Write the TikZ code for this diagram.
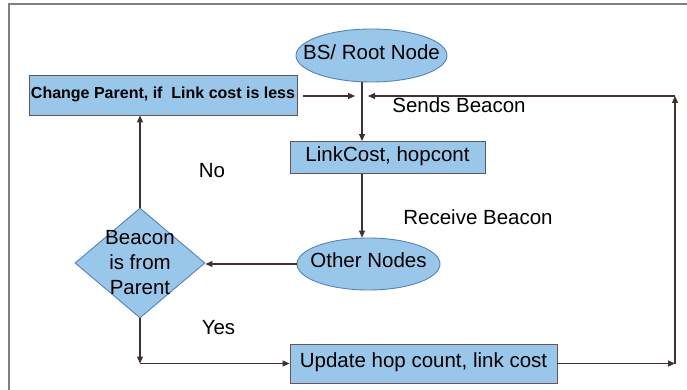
\documentclass[tikz,border=0pt]{standalone}
\usepackage{fontspec}
\setmainfont{Liberation Sans}
\usepackage{tikz}
\usepackage{xcolor}
\usetikzlibrary{positioning,shapes,arrows.meta}

\definecolor{boxfill}{RGB}{153,199,234}
\definecolor{ovalline}{RGB}{84,130,186}
\definecolor{boxline}{RGB}{100,85,88}
\definecolor{wire}{RGB}{65,48,45}

\begin{document}
\begin{tikzpicture}[x=1pt,y=1pt]
\tikzstyle{every node}+=[inner sep=0pt, text height=0.72em, text depth=0pt, font=\fontsize{20.5}{25}\selectfont]
\tikzstyle{block}=[rectangle, draw=boxline, line width=0.9pt, fill=boxfill]
\tikzstyle{oval}=[ellipse, draw=ovalline, line width=0.9pt, fill=boxfill, inner sep=-20pt]
\tikzstyle{test}=[diamond, draw=ovalline, line width=0.9pt, fill=boxfill, inner sep=-8pt, align=center, text height=, text depth=]
\tikzstyle{line}=[draw=wire, line width=1.1pt, -{Triangle[length=7pt,width=6pt]}]
\useasboundingbox (0,0) rectangle (687,-390);
\draw [gray, line width=1.6pt] (9,-390) -- (9,-4) -- (687,-4);
% nodes
\node [oval, minimum width=151, minimum height=53] (root) at (371.5,-55.5) {BS/ Root Node};
\node [block, minimum width=268, minimum height=40, font=\fontsize{16}{19}\selectfont\bfseries] (change) at (163,-95) {Change Parent, if\ \ Link cost is less};
\node [block, minimum width=195, minimum height=32] (link) at (387.5,-157.5) {LinkCost, hopcont};
\node [oval, minimum width=143, minimum height=52] (other) at (368.5,-264) {Other Nodes};
\node [test, minimum width=130, minimum height=110] (check) at (140,-263) {Beacon\\is from\\Parent};
\node [block, minimum width=267, minimum height=39] (update) at (423.5,-363.5) {Update hop count, link cost};
% labels
\node [anchor=base] (no) at (212,-178) {No};
\node [anchor=base] (yes) at (218.5,-334) {Yes};
\node [anchor=base] (sends) at (459,-113) {Sends Beacon};
\node [anchor=base] (receive) at (478,-224) {Receive Beacon};
% turning points
\coordinate (merge) at (362,-96);
\coordinate (turnyes) at (140,-363.5);
\coordinate (turnlow) at (675,-363.5);
\coordinate (turnhigh) at (675,-96);
% connectors
\draw [line] (root.south -| merge) -- (link.north -| merge);
\draw [line] (link.south -| merge) -- (other.north -| merge);
\draw [line, shorten <=6pt, shorten >=7pt] (change.east |- merge) -- (merge);
\draw [line] (other.west) -- (other.west -| check.east);
\draw [line] (check.north) -- (check.north |- change.south);
\draw [line] (check.south) -- (turnyes);
\draw [line] (turnyes) -- (update.west);
\draw [line] (update.east) -- (turnlow);
\draw [line] (turnlow) -- (turnhigh);
\draw [line, shorten >=6pt] (turnhigh) -- (merge);
\end{tikzpicture}
\end{document}
